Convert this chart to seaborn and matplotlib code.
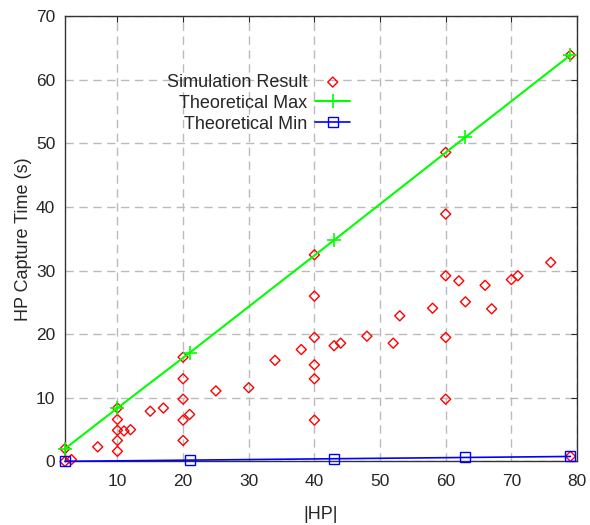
import pandas as pd
import seaborn as sns
import matplotlib.pyplot as plt

# simulation results (red diamonds)
sim_x = [2, 2, 3, 7, 10, 10, 10, 10, 10, 11, 12, 15, 17, 20, 20, 20, 20, 20, 21, 25, 30, 34, 38,
         40, 40, 40, 40, 40, 40, 43, 44, 48, 52, 53, 58, 60, 60, 60, 60, 60, 62, 63, 66, 67, 70,
         71, 76, 79, 79]
sim_y = [2.0, 0.0, 0.3, 2.3, 8.4, 6.6, 4.9, 3.3, 1.6, 4.8, 5.0, 7.9, 8.4, 16.4, 13.0, 9.8, 6.5,
         3.3, 7.4, 11.1, 11.6, 15.9, 17.6, 32.5, 26.0, 19.5, 15.2, 13.0, 6.5, 18.2, 18.6, 19.7,
         18.6, 22.9, 24.1, 48.6, 38.9, 29.2, 19.5, 9.8, 28.4, 25.1, 27.7, 24.0, 28.6, 29.2, 31.3,
         63.9, 0.8]

# theoretical bounds
max_x = [2, 10, 21, 43, 63, 79]
max_y = [2.0, 8.4, 17.1, 34.8, 51.0, 63.9]
min_x = [2, 21, 43, 63, 79]
min_y = [0.02, 0.21, 0.43, 0.63, 0.79]

df_sim = pd.DataFrame({'hp': sim_x, 'time': sim_y})
df_max = pd.DataFrame({'hp': max_x, 'time': max_y})
df_min = pd.DataFrame({'hp': min_x, 'time': min_y})

sns.set_style('white')
plt.rcParams['font.family'] = ['Liberation Sans', 'DejaVu Sans']

fig = plt.figure(figsize=(5.9, 5.25), dpi=100)
ax = fig.add_axes([0.110, 0.121, 0.868, 0.848])

sns.scatterplot(data=df_sim, x='hp', y='time', marker='D', s=26, facecolor='none',
                edgecolor='#FF0000', linewidth=1, label='Simulation Result', ax=ax, zorder=3,
                clip_on=False)
sns.lineplot(data=df_max, x='hp', y='time', color='#00FF00', marker='+', markersize=10,
             markeredgecolor='#00FF00', markeredgewidth=1.2, linewidth=1.5,
             label='Theoretical Max', ax=ax, zorder=4, clip_on=False)
sns.lineplot(data=df_min, x='hp', y='time', color='#0000FF', marker='s', markersize=7.5,
             markerfacecolor='none', markeredgecolor='#0000FF', markeredgewidth=1,
             linewidth=1.2, label='Theoretical Min', ax=ax, zorder=4, clip_on=False)

ax.set_xlim(2, 80)
ax.set_ylim(0, 70)
ax.set_xticks(range(10, 81, 10))
ax.set_yticks(range(0, 71, 10))
ax.grid(True, color='#BBBBBB', linestyle=(0, (6, 4)), linewidth=1)
ax.tick_params(direction='in', top=True, right=True, length=4, labelsize=12.5, pad=7)
ax.tick_params(axis='x', pad=9)
for sp in ax.spines.values():
    sp.set_color('#333333')
    sp.set_linewidth(1)

ax.set_xlabel('|HP|', fontsize=13, labelpad=12)
ax.set_ylabel('HP Capture Time (s)', fontsize=13, labelpad=3)

ax.legend(loc='upper right', bbox_to_anchor=(0.575, 0.891), frameon=False, markerfirst=False,
          fontsize=13, handlelength=1.95, handletextpad=0.45, labelspacing=0.22, borderpad=0,
          scatterpoints=1)

fig.savefig('out.png', dpi=100)
